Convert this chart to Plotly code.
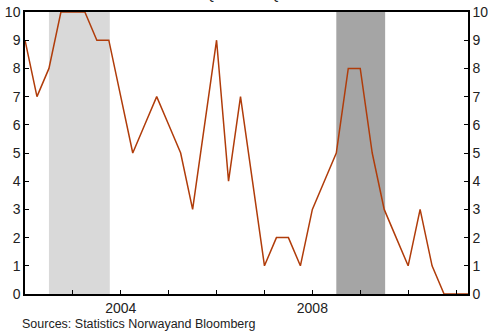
import plotly.graph_objects as go

# Quarterly indicator, 2002Q1 - 2011Q2, on a 0-10 scale
years = [2002 + 0.25 * i for i in range(38)]
indicator = [9, 7, 8, 10, 10, 10, 9, 9,
             7, 5, 6, 7, 6, 5, 3, 6,
             9, 4, 7, 4, 1, 2, 2, 1,
             3, 4, 5, 8, 8, 5, 3, 2,
             1, 3, 1, 0, 0, 0]

# Shaded periods (start, end) in fractional years
light_period = [2002.5, 2003.77]
dark_period = [2008.5, 2009.52]

year_ticks = list(range(2003, 2012))
year_labels = ["2004" if y == 2004 else "2008" if y == 2008 else "" for y in year_ticks]
y_ticks = list(range(0, 11))

FONT = "'Liberation Sans', Arial, sans-serif"
LINE_COLOR = "#B03C0A"

fig = go.Figure()
fig.add_trace(go.Scatter(x=years, y=indicator, mode="lines",
                         line=dict(color=LINE_COLOR, width=1.5),
                         hoverinfo="skip", showlegend=False))
# Companion trace so the right-hand axis is drawn
fig.add_trace(go.Scatter(x=years, y=indicator, mode="none", yaxis="y2",
                         hoverinfo="skip", showlegend=False))

fig.add_vrect(x0=light_period[0], x1=light_period[1], fillcolor="#D9D9D9",
              line_width=0, layer="below")
fig.add_vrect(x0=dark_period[0], x1=dark_period[1], fillcolor="#A5A5A5",
              line_width=0, layer="below")

axis_common = dict(showgrid=False, zeroline=False, showline=True,
                   linecolor="black", linewidth=1.5, automargin=False,
                   ticks="inside", ticklen=4, tickcolor="black", tickwidth=1,
                   tickfont=dict(family=FONT, size=14, color="#222"))

fig.update_layout(
    width=488, height=334,
    margin=dict(l=25, r=20, t=12, b=40, autoexpand=False),
    paper_bgcolor="white", plot_bgcolor="white",
    font=dict(family=FONT, size=13, color="#222"),
    xaxis=dict(range=[2002, 2011.25], tickvals=year_ticks, ticktext=year_labels,
               mirror=True, **axis_common),
    yaxis=dict(range=[0, 10], tickvals=y_ticks, **axis_common),
    yaxis2=dict(range=[0, 10], tickvals=y_ticks, overlaying="y", side="right",
                **axis_common),
    annotations=[
        dict(text="Indicator on scale 0-10. 2002Q1 \u2013 2011Q2",
             xref="paper", yref="paper", x=-0.007, y=1.0, yshift=8,
             xanchor="left", yanchor="bottom", showarrow=False,
             font=dict(family=FONT, size=14, color="#222")),
        dict(text="Sources: Statistics Norwayand Bloomberg",
             xref="paper", yref="paper", x=-0.012, y=0, yshift=-21,
             xanchor="left", yanchor="top", showarrow=False,
             font=dict(family=FONT, size=12.5, color="#222")),
    ],
)

fig.write_html("out.html")
